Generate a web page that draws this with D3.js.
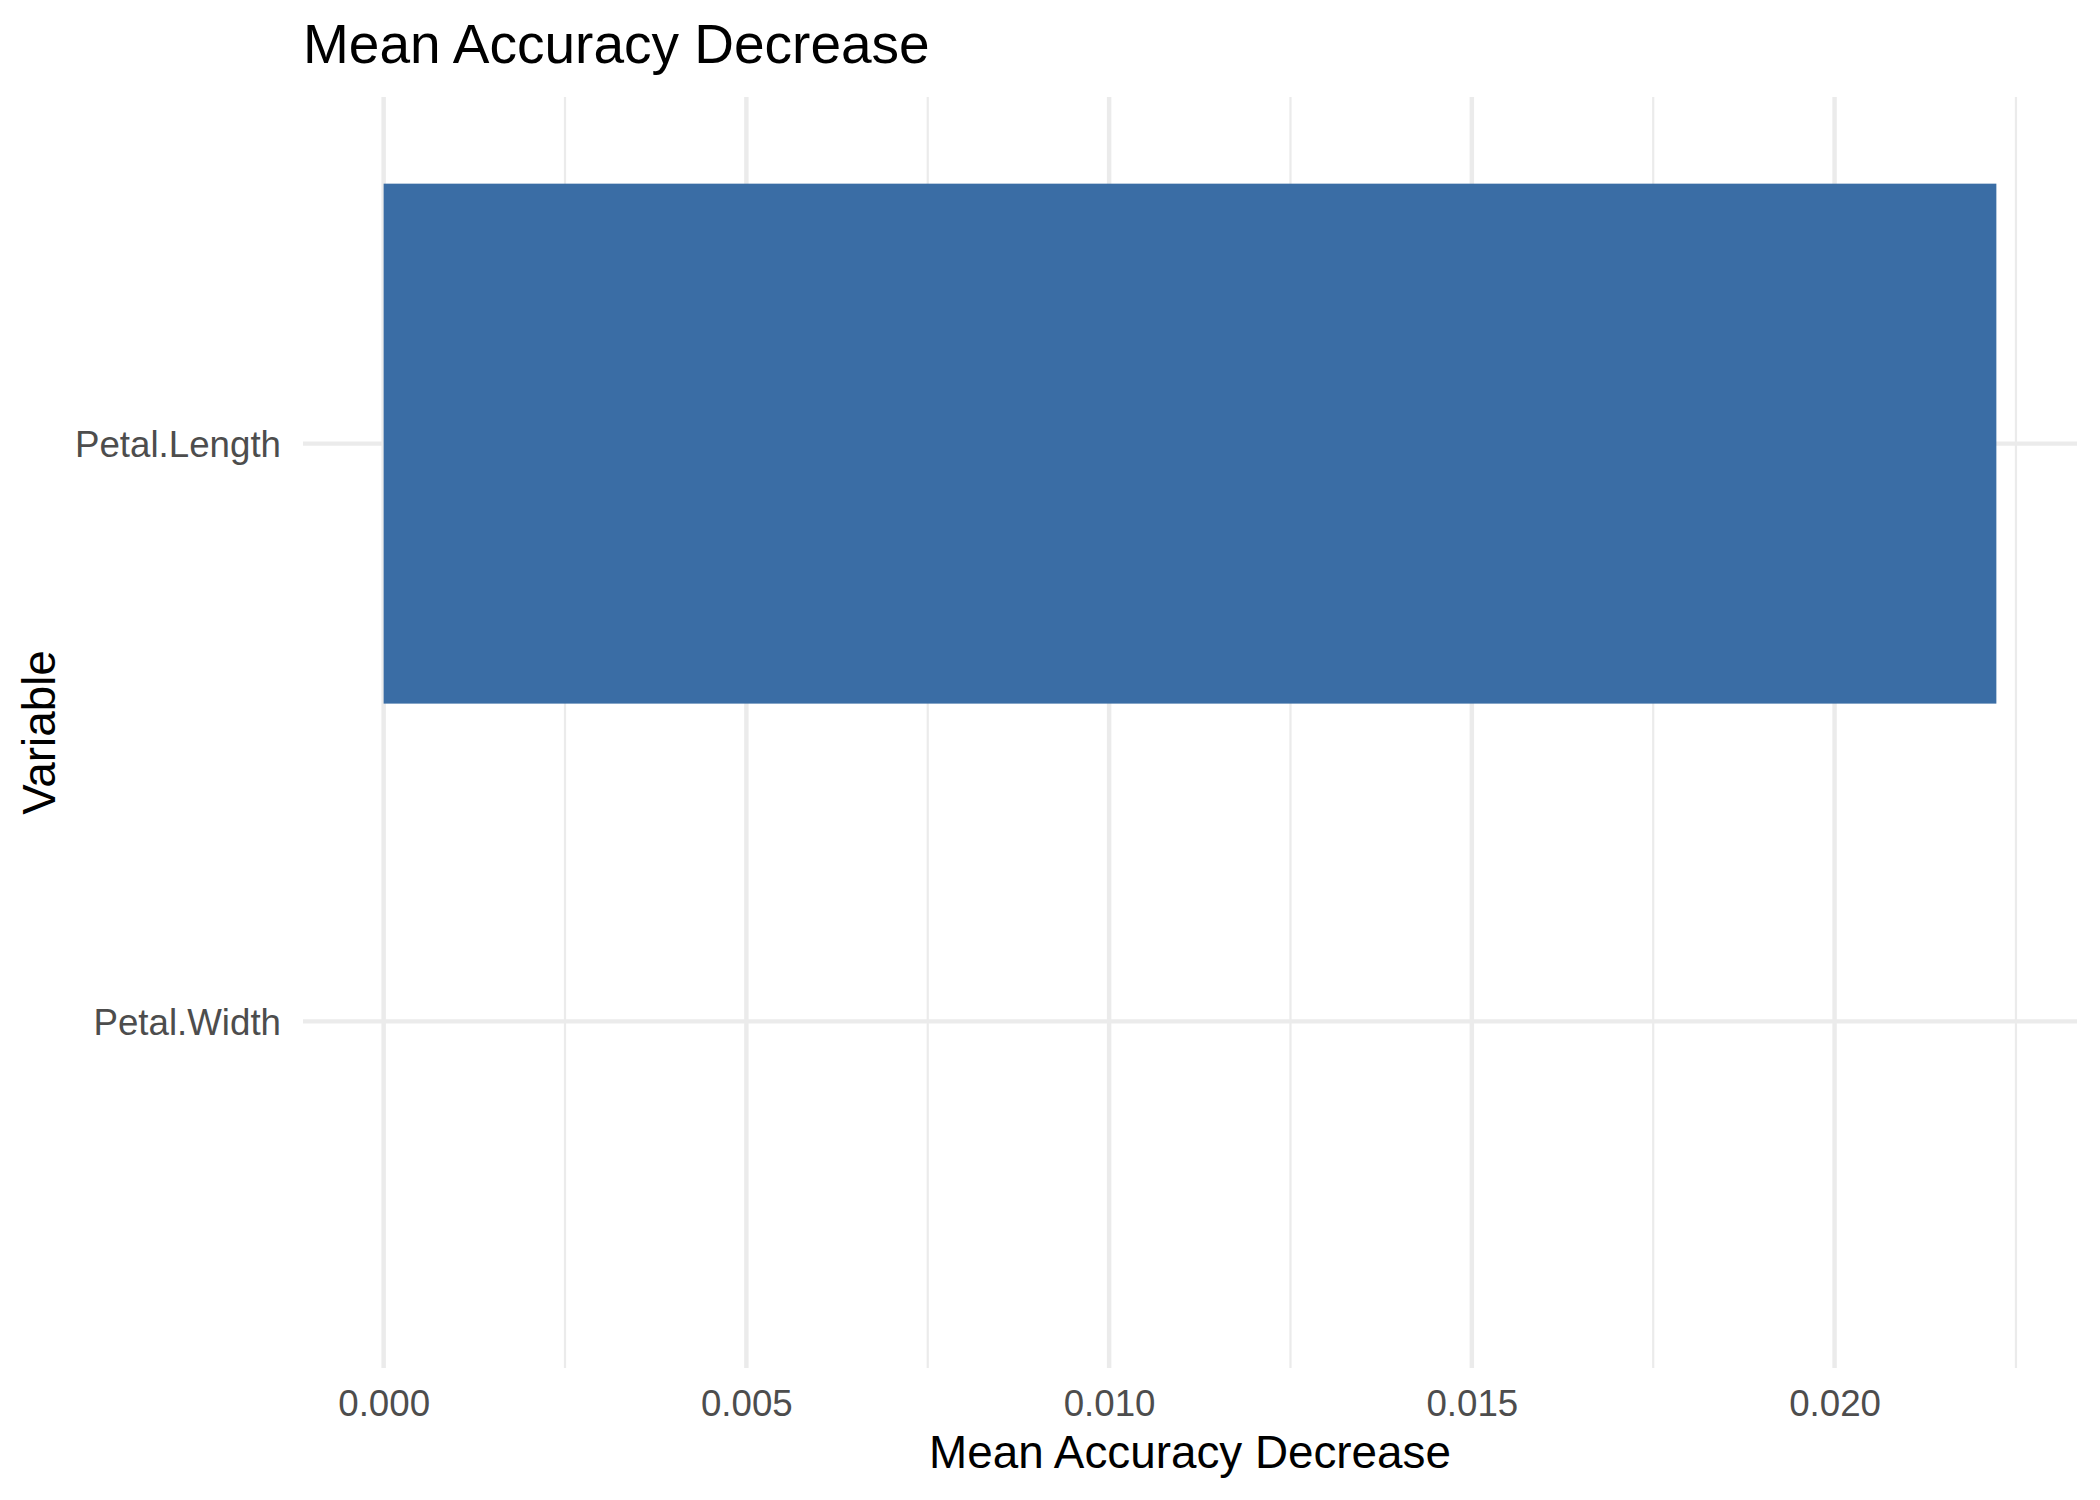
<!DOCTYPE html>
<html>
<head>
<meta charset="utf-8">
<script src="https://cdn.jsdelivr.net/npm/d3@7"></script>
<style>
  html, body { margin: 0; padding: 0; background: #fff; }
  svg text { font-family: "Liberation Sans", Arial, Helvetica, sans-serif; }
</style>
</head>
<body>
<div id="chart"></div>
<script>
// data
const variables = ["Petal.Length", "Petal.Width"];
const meanDecrease = [0.02223, 0];
const majorTicks = [0, 0.005, 0.010, 0.015, 0.020];
const minorTicks = [0.0025, 0.0075, 0.0125, 0.0175, 0.0225];

const width = 2100, height = 1500;
const panel = {left: 303, right: 2077, top: 97, bottom: 1368};
const gridColor = "#EBEBEB";

const svg = d3.select("#chart")
  .append("svg")
  .attr("width", width).attr("height", height)
  .attr("viewBox", [0, 0, width, height]);

// ggplot-style 5% expansion on the continuous axis
const lo = Math.min(0, d3.min(meanDecrease)), hi = d3.max(meanDecrease);
const pad = (hi - lo) * 0.05;
const x = d3.scaleLinear()
  .domain([lo - pad, hi + pad])
  .range([panel.left, panel.right]);

// discrete axis, first level on top, 0.6 unit expansion
const y = d3.scalePoint()
  .domain(variables.slice().reverse())
  .range([panel.bottom, panel.top])
  .padding(0.6);
const barH = y.step() * 0.9;

// grid
const grid = svg.append("g");
grid.selectAll("line.minor")
  .data(minorTicks.filter(t => t >= x.domain()[0] && t <= x.domain()[1]))
  .join("line")
    .attr("class", "minor")
    .attr("x1", d => x(d)).attr("x2", d => x(d))
    .attr("y1", panel.top).attr("y2", panel.bottom)
    .attr("stroke", gridColor).attr("stroke-width", 2.2);
grid.selectAll("line.majorx")
  .data(majorTicks)
  .join("line")
    .attr("class", "majorx")
    .attr("x1", d => x(d)).attr("x2", d => x(d))
    .attr("y1", panel.top).attr("y2", panel.bottom)
    .attr("stroke", gridColor).attr("stroke-width", 4.45);
grid.selectAll("line.majory")
  .data(variables)
  .join("line")
    .attr("class", "majory")
    .attr("x1", panel.left).attr("x2", panel.right)
    .attr("y1", d => y(d)).attr("y2", d => y(d))
    .attr("stroke", gridColor).attr("stroke-width", 4.45);

// bars
svg.append("g")
  .selectAll("rect")
  .data(variables.map((v, i) => ({v, val: meanDecrease[i]})))
  .join("rect")
    .attr("x", d => x(Math.min(0, d.val)))
    .attr("width", d => Math.abs(x(d.val) - x(0)))
    .attr("y", d => y(d.v) - barH / 2)
    .attr("height", barH)
    .attr("fill", "#3A6DA5");

// axes (no lines, no ticks)
const xAxis = svg.append("g")
  .attr("transform", `translate(0,${panel.bottom})`)
  .call(d3.axisBottom(x).tickValues(majorTicks).tickFormat(d3.format(".3f"))
    .tickSize(0).tickPadding(22));
xAxis.select(".domain").remove();
xAxis.selectAll("text")
  .attr("font-size", 36.7).attr("fill", "#4D4D4D")
  .style("font-family", '"Liberation Sans", Arial, sans-serif');

const yAxis = svg.append("g")
  .attr("transform", `translate(${panel.left},0)`)
  .call(d3.axisLeft(y).tickSize(0).tickPadding(22));
yAxis.select(".domain").remove();
yAxis.selectAll("text")
  .attr("font-size", 36.7).attr("fill", "#4D4D4D").attr("dy", "0.36em")
  .style("font-family", '"Liberation Sans", Arial, sans-serif');

// titles
svg.append("text")
  .attr("x", panel.left).attr("y", 63)
  .attr("font-size", 55).attr("fill", "#000")
  .text("Mean Accuracy Decrease");

svg.append("text")
  .attr("x", (panel.left + panel.right) / 2).attr("y", 1468)
  .attr("text-anchor", "middle")
  .attr("font-size", 45.8).attr("fill", "#000")
  .text("Mean Accuracy Decrease");

svg.append("text")
  .attr("transform", `translate(55,${(panel.top + panel.bottom) / 2}) rotate(-90)`)
  .attr("text-anchor", "middle")
  .attr("font-size", 45.8).attr("fill", "#000")
  .text("Variable");
</script>
</body>
</html>
